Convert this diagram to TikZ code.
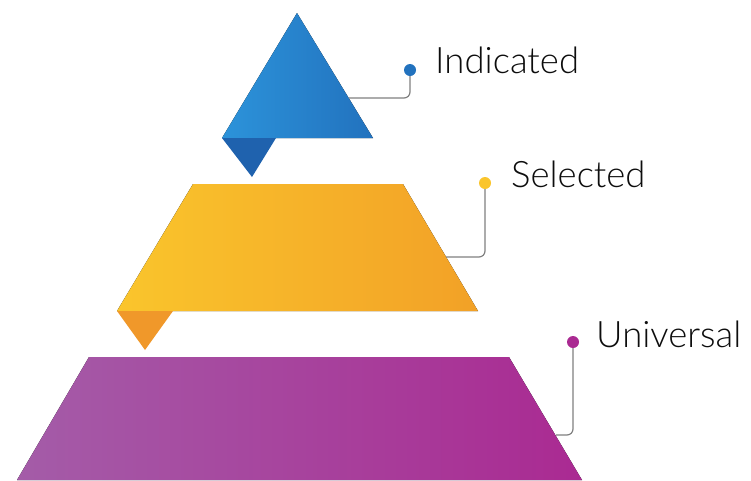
\documentclass[tikz,border=0pt]{standalone}
\usepackage{fontspec}
\setmainfont{Lato Light}
\begin{document}
\begin{tikzpicture}[x=1pt,y=-1pt,
  conn/.style={draw=black!50, line width=1.2pt, rounded corners=6pt},
  dot/.style={circle, minimum size=12pt, inner sep=0pt},
  lbl/.style={anchor=base west, inner sep=0pt, font=\fontsize{36.5}{40}\selectfont, text=black!95}]
\useasboundingbox (0,0) rectangle (751,480);
\definecolor{bL}{HTML}{2C93DA}\definecolor{bR}{HTML}{2272BE}\definecolor{bF}{HTML}{1F62AE}
\definecolor{yL}{HTML}{FAC52C}\definecolor{yR}{HTML}{F2A127}\definecolor{yF}{HTML}{F0982A}
\definecolor{pL}{HTML}{A45CA8}\definecolor{pR}{HTML}{AA2A92}
% blue triangle
\fill[left color=bL, right color=bR] (297,13) -- (373,138) -- (222,138) -- cycle;
\fill[bF] (222,138) -- (276,138) -- (252,177) -- cycle;
% yellow trapezoid
\fill[left color=yL, right color=yR] (193,184) -- (403,184) -- (478,311) -- (117,311) -- cycle;
\fill[yF] (117,311) -- (173,311) -- (145,350) -- cycle;
% purple trapezoid
\fill[left color=pL, right color=pR] (89,357) -- (509,357) -- (582,480) -- (17,480) -- cycle;
% connectors
\coordinate (e1) at (349,98);
\coordinate (e2) at (446,257);
\coordinate (e3) at (556,435);
\node[dot] (d1) at (410,70) {};
\node[dot] (d2) at (485,183) {};
\node[dot] (d3) at (573,342) {};
\draw[conn] (e1) -| (d1.center);
\draw[conn] (e2) -| (d2.center);
\draw[conn] (e3) -| (d3.center);
\node[dot, fill=bR] at (d1) {};
\node[dot, fill=yL] at (d2) {};
\node[dot, fill=pR] at (d3) {};
% labels
\node[lbl] (t1) at (435,73) {Indicated};
\node[lbl] (t2) at (511,187) {Selected};
\node[lbl] (t3) at (596,347) {Universal};
\end{tikzpicture}
\end{document}
